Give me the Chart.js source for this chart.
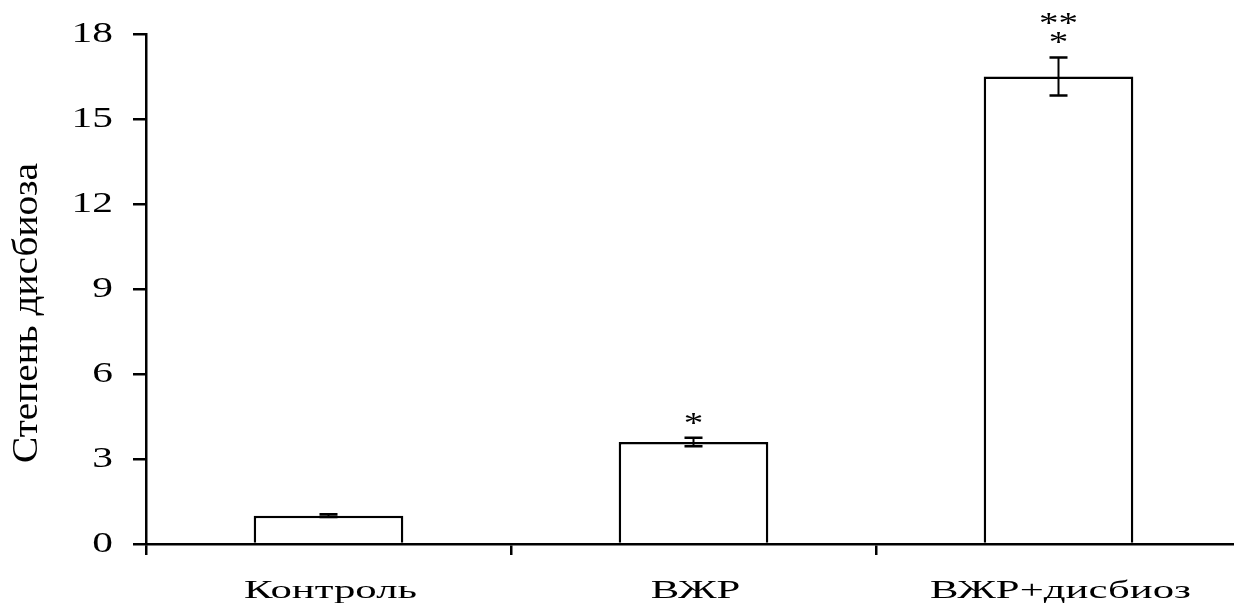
<!DOCTYPE html>
<html>
<head>
<meta charset="utf-8">
<script src="https://cdn.jsdelivr.net/npm/chart.js@4"></script>
<style>
  body { margin: 0; overflow: hidden; background: white; }
</style>
</head>
<body>
<canvas id="dysbiosisChart" width="1242" height="607"></canvas>
<script>
// data
var categories = ['Контроль', 'ВЖР', 'ВЖР+дисбиоз'];
var values = [1.0, 3.6, 16.5];
var errors = [0.05, 0.15, 0.67];
var marks = [[], ['*'], ['**', '*']];
var yTicks = [0, 3, 6, 9, 12, 15, 18];
var yTitle = 'Степень дисбиоза';

var serif = '"Liberation Serif", serif';

// error bars and asterisks
var errorBars = {
  afterDatasetsDraw: function(chart) {
    var ctx = chart.ctx;
    var x = chart.scales.x, y = chart.scales.y;
    ctx.save();
    ctx.strokeStyle = 'black';
    for (var i = 0; i < values.length; i++) {
      var cx = x.getPixelForValue(i);
      var top = y.getPixelForValue(values[i] + errors[i]);
      var bot = y.getPixelForValue(values[i] - errors[i]);
      ctx.lineWidth = 2;
      ctx.beginPath();
      ctx.moveTo(cx, top); ctx.lineTo(cx, bot);
      ctx.stroke();
      ctx.lineWidth = 2.5;
      ctx.beginPath();
      ctx.moveTo(cx - 9, top); ctx.lineTo(cx + 9, top);
      ctx.moveTo(cx - 9, bot); ctx.lineTo(cx + 9, bot);
      ctx.stroke();
      // asterisks, last line is closest to the bar
      ctx.fillStyle = 'black';
      ctx.font = '30px ' + serif;
      ctx.textAlign = 'center';
      ctx.textBaseline = 'middle';
      var m = marks[i];
      for (var k = 0; k < m.length; k++) {
        var ty = top - 20 - (m.length - 1 - k) * 19;
        ctx.save();
        ctx.translate(cx, ty + 6);
        ctx.scale(1.3, 1);
        ctx.fillText(m[k], 0, 0);
        ctx.restore();
      }
    }
    ctx.restore();
  }
};

// axis labels drawn stretched like the original
var axisText = {
  afterDraw: function(chart) {
    var ctx = chart.ctx;
    var x = chart.scales.x, y = chart.scales.y;
    ctx.save();
    ctx.fillStyle = 'black';
    // y tick labels
    ctx.font = '30px ' + serif;
    ctx.textAlign = 'right';
    ctx.textBaseline = 'middle';
    yTicks.forEach(function(t) {
      var py = y.getPixelForValue(t);
      ctx.save();
      ctx.translate(113, py);
      ctx.scale(1.38, 1);
      ctx.fillText(String(t), 0, 0);
      ctx.restore();
    });
    // x category labels
    ctx.font = '25px ' + serif;
    ctx.textAlign = 'center';
    ctx.textBaseline = 'alphabetic';
    var sx = 173 / ctx.measureText(categories[0]).width;
    categories.forEach(function(c, i) {
      var px = x.getPixelForValue(i);
      ctx.save();
      ctx.translate(px + 2, 598);
      ctx.scale(sx, 1);
      ctx.fillText(c, 0, 0);
      ctx.restore();
    });
    // y title
    ctx.font = '35px ' + serif;
    ctx.textBaseline = 'middle';
    var s = 300 / ctx.measureText(yTitle).width;
    ctx.save();
    ctx.translate(28, 313);
    ctx.rotate(-Math.PI / 2);
    ctx.scale(s, 1);
    ctx.fillText(yTitle, 0, 0);
    ctx.restore();
    ctx.restore();
  }
};

function create_chart() {
  var ctx = document.getElementById('dysbiosisChart').getContext('2d');
  new Chart(ctx, {
    type: 'bar',
    data: {
      labels: categories,
      datasets: [{
        data: values,
        backgroundColor: 'white',
        borderColor: 'black',
        borderWidth: 2.5,
        barPercentage: 0.41,
        categoryPercentage: 1.0
      }]
    },
    plugins: [errorBars, axisText],
    options: {
      responsive: false,
      animation: false,
      events: [],
      layout: { padding: { top: 34, right: 1, left: 0, bottom: 0 } },
      plugins: {
        legend: { display: false },
        tooltip: { enabled: false }
      },
      scales: {
        x: {
          afterFit: function(scale) { scale.height = 63; },
          ticks: { display: false },
          grid: {
            offset: true,
            drawOnChartArea: false,
            drawTicks: true,
            tickLength: 11,
            color: 'black',
            lineWidth: 2.5
          },
          border: { display: true, color: 'black', width: 2.5 }
        },
        y: {
          min: 0,
          max: 18,
          afterFit: function(scale) { scale.width = 146; },
          afterBuildTicks: function(scale) {
            scale.ticks = yTicks.map(function(v) { return { value: v }; });
          },
          ticks: { display: false },
          grid: {
            drawOnChartArea: false,
            drawTicks: true,
            tickLength: 13,
            color: 'black',
            lineWidth: 2.5
          },
          border: { display: true, color: 'black', width: 2.5 }
        }
      }
    }
  });
}

// make sure the serif font is ready before drawing on canvas
Promise.all([
  document.fonts.load('30px "Liberation Serif"', 'Степень0123'),
  document.fonts.load('25px "Liberation Serif"', 'Контроль')
]).then(create_chart, create_chart);
</script>
</body>
</html>
